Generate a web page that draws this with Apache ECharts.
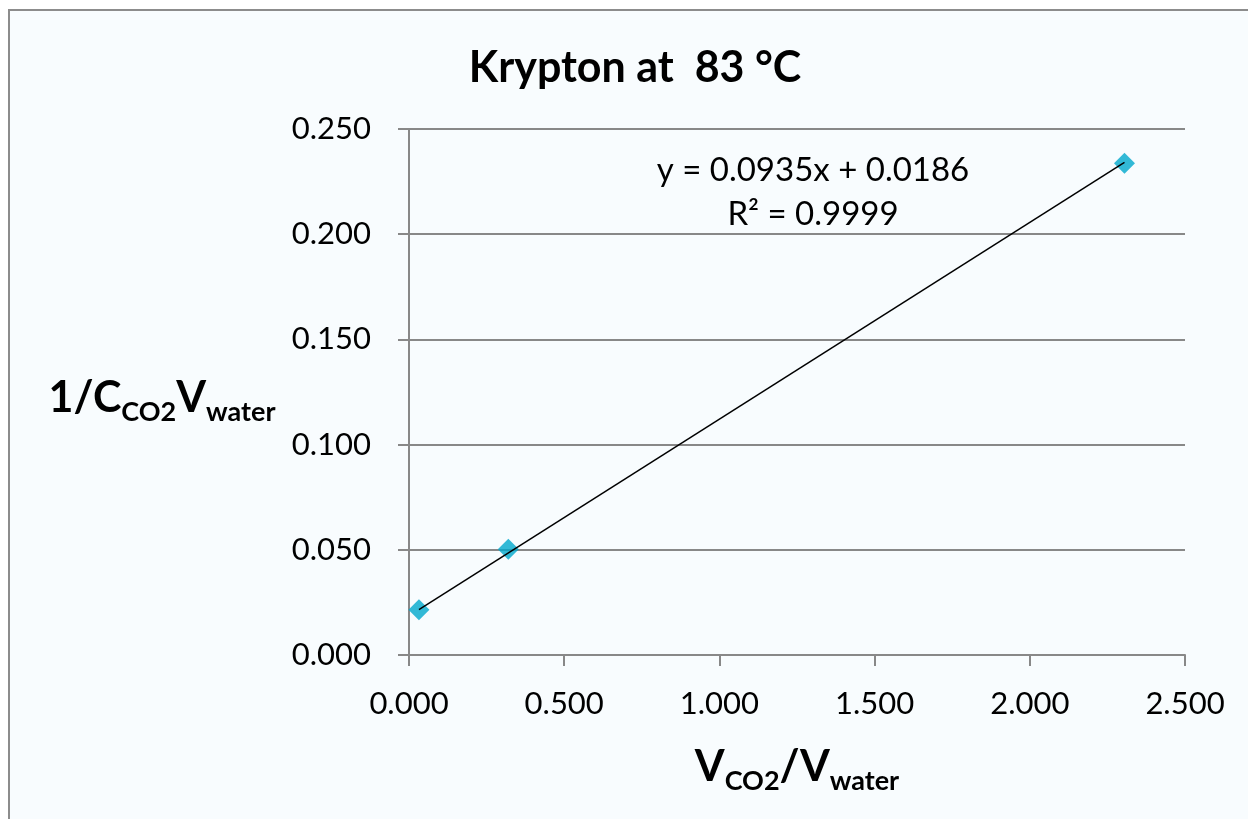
<!DOCTYPE html>
<html>
<head>
<meta charset="utf-8">
<title>Krypton at 83 °C</title>
<script src="https://cdn.jsdelivr.net/npm/echarts@6/dist/echarts.min.js"></script>
<style>
  html, body { margin: 0; padding: 0; background: #ffffff; overflow: hidden; }
  #frame {
    position: absolute; left: 8px; top: 9px; width: 1300px; height: 900px;
    background: #f8fcfe; border: 2px solid #8c8c8c; box-sizing: border-box;
  }
  #chart { position: absolute; left: 0; top: 0; width: 1248px; height: 819px; }
</style>
</head>
<body>
<div id="frame"></div>
<div id="chart"></div>
<script>
// Measured points: V(CO2)/V(water) against 1/(C(CO2)·V(water))
const xValues = [0.032, 0.320, 2.305];
const yValues = [0.0215, 0.0503, 0.2337];

// Linear trendline as reported on the chart
const trendSlope = 0.0935;
const trendIntercept = 0.0186;
const trendR2 = 0.9999;

// Tick labels
const xTicks = ['0.000', '0.500', '1.000', '1.500', '2.000', '2.500'];
const yTicks = ['0.000', '0.050', '0.100', '0.150', '0.200', '0.250'];

const FONT = 'Lato, "Open Sans", sans-serif';

const points = xValues.map((x, i) => [x, yValues[i]]);
const xFirst = Math.min(...xValues);
const xLast = Math.max(...xValues);
const trendLine = [xFirst, xLast].map(x => [x, trendSlope * x + trendIntercept]);

const chart = echarts.init(document.getElementById('chart'), null, { renderer: 'canvas' });

// bold axis titles with subscripts: main text is centred in the line box,
// subscripts hang from its bottom edge so they drop below the baseline
const titleRich = {
  b: { fontFamily: FONT, fontWeight: 'bold', fontSize: 43, color: '#000', lineHeight: 55, verticalAlign: 'middle' },
  s: { fontFamily: FONT, fontWeight: 'bold', fontSize: 27, color: '#000', lineHeight: 55, verticalAlign: 'bottom' }
};

chart.setOption({
  backgroundColor: 'transparent',
  animation: false,
  title: {
    text: 'Krypton at  83 °C',
    left: 630, top: 42, textAlign: 'center',
    textStyle: { fontFamily: FONT, fontWeight: 'bold', fontSize: 43, color: '#000' }
  },
  grid: { left: 409, right: 63, top: 129, bottom: 164, containLabel: false },
  xAxis: {
    type: 'value', min: 0, max: 2.5, interval: 0.5,
    axisLine: { show: true, lineStyle: { color: '#888', width: 2 } },
    axisTick: { show: true, length: 11, lineStyle: { color: '#888', width: 2 } },
    splitLine: { show: false },
    axisLabel: {
      margin: 33, color: '#000', fontFamily: FONT, fontSize: 31,
      formatter: (v) => xTicks[Math.round(v / 0.5)]
    }
  },
  yAxis: {
    type: 'value', min: 0, max: 0.25, interval: 0.05,
    axisLine: { show: true, lineStyle: { color: '#888', width: 2 } },
    axisTick: { show: true, length: 11, lineStyle: { color: '#888', width: 2 } },
    splitLine: { show: true, lineStyle: { color: '#888', width: 2 } },
    axisLabel: {
      margin: 38, color: '#000', fontFamily: FONT, fontSize: 31,
      formatter: (v) => yTicks[Math.round(v / 0.05)]
    }
  },
  graphic: [
    {
      type: 'text', x: 162, y: 371, silent: true,
      style: {
        text: '{b|1/C}{s|CO2}{b|V}{s|water}',
        align: 'center', verticalAlign: 'top',
        rich: titleRich
      }
    },
    {
      type: 'text', x: 797, y: 740, silent: true,
      style: {
        text: '{b|V}{s|CO2}{b|/V}{s|water}',
        align: 'center', verticalAlign: 'top',
        rich: titleRich
      }
    },
    {
      type: 'text', x: 813, y: 170, silent: true,
      style: {
        text: 'y = ' + trendSlope.toFixed(4) + 'x + ' + trendIntercept.toFixed(4),
        align: 'center', verticalAlign: 'middle',
        fontFamily: FONT, fontSize: 33, fill: '#000'
      }
    },
    {
      type: 'text', x: 813, y: 214, silent: true,
      style: {
        text: 'R² = ' + trendR2.toFixed(4),
        align: 'center', verticalAlign: 'middle',
        fontFamily: FONT, fontSize: 33, fill: '#000'
      }
    }
  ],
  series: [
    {
      name: 'Trendline', type: 'line', data: trendLine,
      symbol: 'none', lineStyle: { color: '#000', width: 1.5 }, z: 3, silent: true
    },
    {
      name: 'Krypton', type: 'scatter', data: points,
      symbol: 'diamond', symbolSize: 21,
      itemStyle: { color: '#00a8cc' }, z: 2
    }
  ]
});
</script>
</body>
</html>
